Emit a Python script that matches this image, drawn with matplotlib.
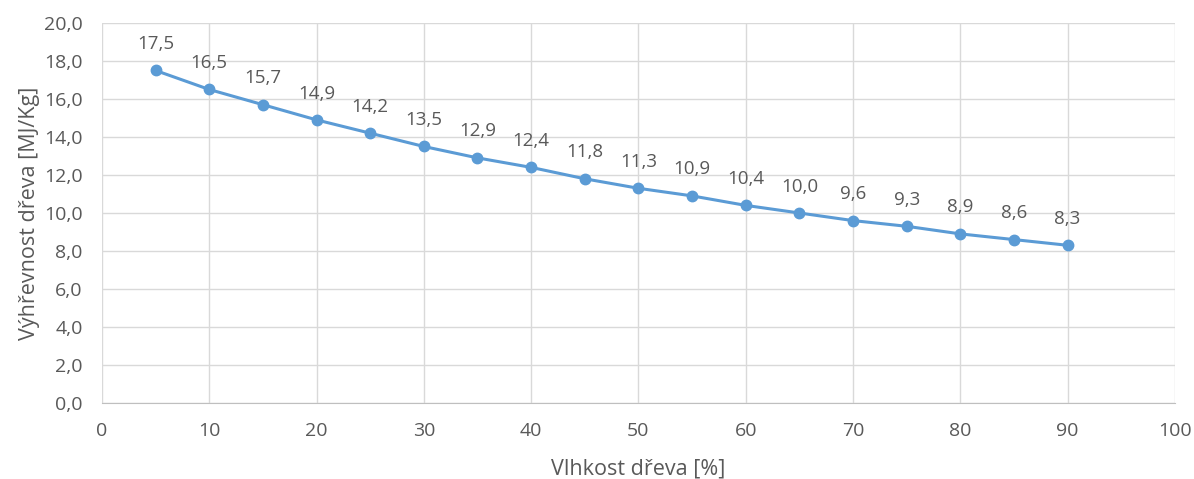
import matplotlib.pyplot as plt
from matplotlib.ticker import FuncFormatter, MultipleLocator

# ----- data -----
vlhkost = [5, 10, 15, 20, 25, 30, 35, 40, 45, 50, 55, 60, 65, 70, 75, 80, 85, 90]
vyhrevnost = [17.5, 16.5, 15.7, 14.9, 14.2, 13.5, 12.9, 12.4, 11.8,
              11.3, 10.9, 10.4, 10.0, 9.6, 9.3, 8.9, 8.6, 8.3]
# ----------------

TEXT_COLOR = "#595959"
GRID_COLOR = "#d9d9d9"
LINE_COLOR = "#5b9bd5"

plt.rcParams['font.family'] = ['Open Sans', 'DejaVu Sans']

fig = plt.figure(figsize=(11.94, 4.79), dpi=100)
ax = fig.add_axes([0.0854, 0.1587, 0.8986, 0.7933])

ax.plot(vlhkost, vyhrevnost, color=LINE_COLOR, linewidth=2.2,
        marker='o', markersize=7.5, zorder=3)

for x, y in zip(vlhkost, vyhrevnost):
    ax.annotate(f"{y:.1f}".replace(".", ","), (x, y), xytext=(0, 19),
                textcoords="offset points", ha="center", va="center",
                fontsize=13.5, color=TEXT_COLOR)

ax.set_xlim(0, 100)
ax.set_ylim(0, 20)
ax.xaxis.set_major_locator(MultipleLocator(10))
ax.yaxis.set_major_locator(MultipleLocator(2))
ax.yaxis.set_major_formatter(FuncFormatter(lambda v, p: f"{v:.1f}".replace(".", ",")))

ax.grid(True, color=GRID_COLOR, linewidth=1)
ax.set_axisbelow(True)
for side in ["top", "right", "left"]:
    ax.spines[side].set_visible(False)
ax.spines["bottom"].set_color("#bfbfbf")
ax.tick_params(axis="both", length=0, labelsize=14, colors=TEXT_COLOR)
ax.tick_params(axis="x", pad=14)
ax.tick_params(axis="y", pad=14)

ax.set_xlabel("Vlhkost dřeva [%]", fontsize=15.5, color=TEXT_COLOR, labelpad=13)
ax.set_ylabel("Výhřevnost dřeva [MJ/Kg]", fontsize=15.5, color=TEXT_COLOR, labelpad=3)

fig.savefig("out.png", dpi=100)
